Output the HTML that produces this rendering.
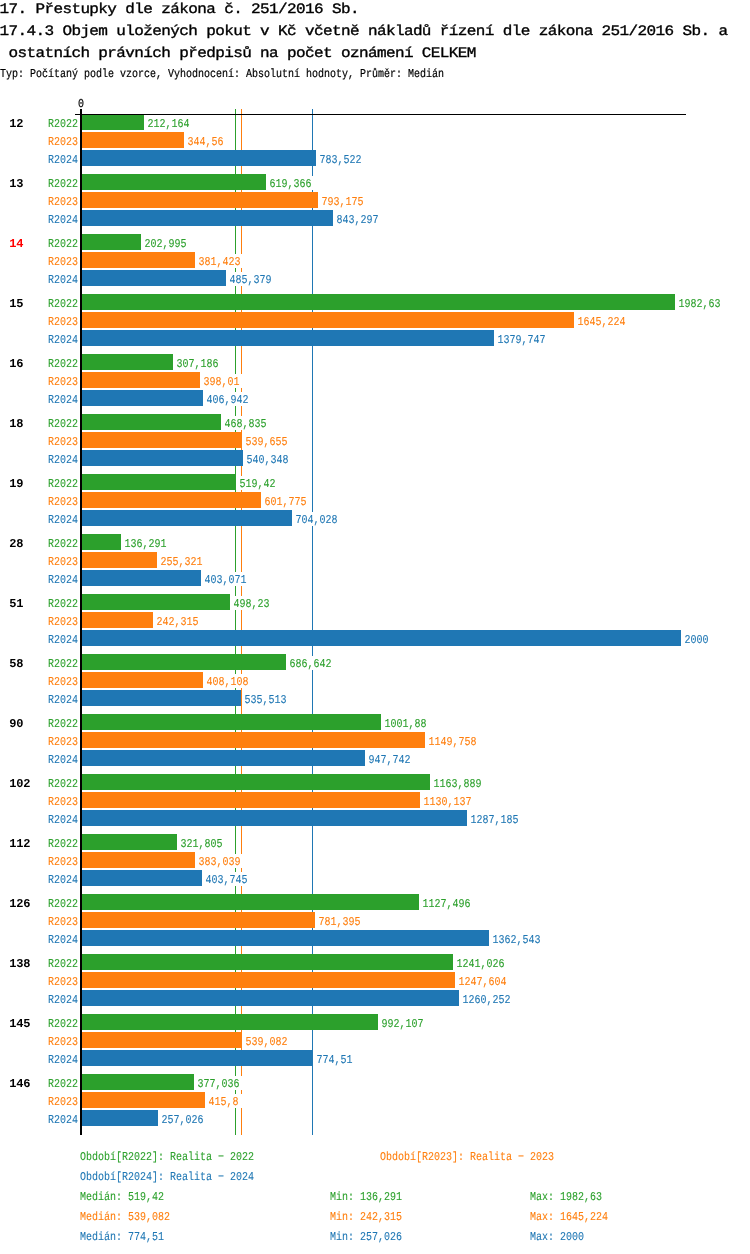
<!DOCTYPE html>
<html lang="cs">
<head>
<meta charset="utf-8">
<title>17.4.3</title>
<style>
html,body{margin:0;padding:0;background:#fff;}
body{width:750px;height:1254px;position:relative;overflow:hidden;font-family:"Liberation Mono",monospace;color:#000;text-rendering:geometricPrecision;}
#chart{position:absolute;left:0;top:0;width:750px;height:1254px;background:#fff;will-change:transform;}
.abs,.t,.s,.c,.y,.v,.bar,.ln,.lg{position:absolute;white-space:pre;}
.t{left:-0.5px;font-size:16px;line-height:24px;height:24px;letter-spacing:-0.615px;-webkit-text-stroke:0.38px #000;transform:scaleY(0.9);transform-origin:0 0;}
.s,.y,.v,.lg{font-size:12px;line-height:14px;height:14px;transform:scaleX(0.8333);transform-origin:0 0;-webkit-text-stroke:0.1px currentColor;}
.c{font-size:12px;font-weight:bold;line-height:14px;height:14px;left:9.3px;letter-spacing:-0.2px;}
.y{left:47.9px;}
.s{-webkit-text-stroke:0.2px #000;}
.v{background:#fff;padding:0 4.8px 0 1.8px;line-height:16px;}
.bar{left:80px;height:16px;}
.g{color:#2ca02c;} .o{color:#ff7f0e;} .b{color:#1f77b4;}
.bar.g{background:#2ca02c;} .bar.o{background:#ff7f0e;} .bar.b{background:#1f77b4;}
.ln{top:109px;width:1px;height:1026px;}
.r{color:#f00;}
</style>
</head>
<body>
<div id="chart">

<div class="t" style="top:-1px">17. Přestupky dle zákona č. 251/2016 Sb.</div>
<div class="t" style="top:21px">17.4.3 Objem uložených pokut v Kč včetně nákladů řízení dle zákona 251/2016 Sb. a</div>
<div class="t" style="top:43px"> ostatních právních předpisů na počet oznámení CELKEM</div>
<div class="s" style="left:0;top:67px">Typ: Počítaný podle vzorce, Vyhodnocení: Absolutní hodnoty, Průměr: Medián</div>
<div class="ln" style="left:235px;background:#2ca02c"></div>
<div class="ln" style="left:241px;background:#ff7f0e"></div>
<div class="ln" style="left:312px;background:#1f77b4"></div>
<div class="s z" style="left:77.5px;top:97px">0</div>
<div class="c" style="top:117px">12</div>
<div class="y g" style="top:117px">R2022</div>
<div class="bar g" style="top:114px;width:64px"></div>
<div class="v g" style="top:116px;left:146px">212,164</div>
<div class="y o" style="top:135px">R2023</div>
<div class="bar o" style="top:132px;width:104px"></div>
<div class="v o" style="top:134px;left:186px">344,56</div>
<div class="y b" style="top:153px">R2024</div>
<div class="bar b" style="top:150px;width:236px"></div>
<div class="v b" style="top:152px;left:318px">783,522</div>
<div class="c" style="top:177px">13</div>
<div class="y g" style="top:177px">R2022</div>
<div class="bar g" style="top:174px;width:186px"></div>
<div class="v g" style="top:176px;left:268px">619,366</div>
<div class="y o" style="top:195px">R2023</div>
<div class="bar o" style="top:192px;width:238px"></div>
<div class="v o" style="top:194px;left:320px">793,175</div>
<div class="y b" style="top:213px">R2024</div>
<div class="bar b" style="top:210px;width:253px"></div>
<div class="v b" style="top:212px;left:335px">843,297</div>
<div class="c r" style="top:237px">14</div>
<div class="y g" style="top:237px">R2022</div>
<div class="bar g" style="top:234px;width:61px"></div>
<div class="v g" style="top:236px;left:143px">202,995</div>
<div class="y o" style="top:255px">R2023</div>
<div class="bar o" style="top:252px;width:115px"></div>
<div class="v o" style="top:254px;left:197px">381,423</div>
<div class="y b" style="top:273px">R2024</div>
<div class="bar b" style="top:270px;width:146px"></div>
<div class="v b" style="top:272px;left:228px">485,379</div>
<div class="c" style="top:297px">15</div>
<div class="y g" style="top:297px">R2022</div>
<div class="bar g" style="top:294px;width:595px"></div>
<div class="v g" style="top:296px;left:677px">1982,63</div>
<div class="y o" style="top:315px">R2023</div>
<div class="bar o" style="top:312px;width:494px"></div>
<div class="v o" style="top:314px;left:576px">1645,224</div>
<div class="y b" style="top:333px">R2024</div>
<div class="bar b" style="top:330px;width:414px"></div>
<div class="v b" style="top:332px;left:496px">1379,747</div>
<div class="c" style="top:357px">16</div>
<div class="y g" style="top:357px">R2022</div>
<div class="bar g" style="top:354px;width:93px"></div>
<div class="v g" style="top:356px;left:175px">307,186</div>
<div class="y o" style="top:375px">R2023</div>
<div class="bar o" style="top:372px;width:120px"></div>
<div class="v o" style="top:374px;left:202px">398,01</div>
<div class="y b" style="top:393px">R2024</div>
<div class="bar b" style="top:390px;width:123px"></div>
<div class="v b" style="top:392px;left:205px">406,942</div>
<div class="c" style="top:417px">18</div>
<div class="y g" style="top:417px">R2022</div>
<div class="bar g" style="top:414px;width:141px"></div>
<div class="v g" style="top:416px;left:223px">468,835</div>
<div class="y o" style="top:435px">R2023</div>
<div class="bar o" style="top:432px;width:162px"></div>
<div class="v o" style="top:434px;left:244px">539,655</div>
<div class="y b" style="top:453px">R2024</div>
<div class="bar b" style="top:450px;width:163px"></div>
<div class="v b" style="top:452px;left:245px">540,348</div>
<div class="c" style="top:477px">19</div>
<div class="y g" style="top:477px">R2022</div>
<div class="bar g" style="top:474px;width:156px"></div>
<div class="v g" style="top:476px;left:238px">519,42</div>
<div class="y o" style="top:495px">R2023</div>
<div class="bar o" style="top:492px;width:181px"></div>
<div class="v o" style="top:494px;left:263px">601,775</div>
<div class="y b" style="top:513px">R2024</div>
<div class="bar b" style="top:510px;width:212px"></div>
<div class="v b" style="top:512px;left:294px">704,028</div>
<div class="c" style="top:537px">28</div>
<div class="y g" style="top:537px">R2022</div>
<div class="bar g" style="top:534px;width:41px"></div>
<div class="v g" style="top:536px;left:123px">136,291</div>
<div class="y o" style="top:555px">R2023</div>
<div class="bar o" style="top:552px;width:77px"></div>
<div class="v o" style="top:554px;left:159px">255,321</div>
<div class="y b" style="top:573px">R2024</div>
<div class="bar b" style="top:570px;width:121px"></div>
<div class="v b" style="top:572px;left:203px">403,071</div>
<div class="c" style="top:597px">51</div>
<div class="y g" style="top:597px">R2022</div>
<div class="bar g" style="top:594px;width:150px"></div>
<div class="v g" style="top:596px;left:232px">498,23</div>
<div class="y o" style="top:615px">R2023</div>
<div class="bar o" style="top:612px;width:73px"></div>
<div class="v o" style="top:614px;left:155px">242,315</div>
<div class="y b" style="top:633px">R2024</div>
<div class="bar b" style="top:630px;width:601px"></div>
<div class="v b" style="top:632px;left:683px">2000</div>
<div class="c" style="top:657px">58</div>
<div class="y g" style="top:657px">R2022</div>
<div class="bar g" style="top:654px;width:206px"></div>
<div class="v g" style="top:656px;left:288px">686,642</div>
<div class="y o" style="top:675px">R2023</div>
<div class="bar o" style="top:672px;width:123px"></div>
<div class="v o" style="top:674px;left:205px">408,108</div>
<div class="y b" style="top:693px">R2024</div>
<div class="bar b" style="top:690px;width:161px"></div>
<div class="v b" style="top:692px;left:243px">535,513</div>
<div class="c" style="top:717px">90</div>
<div class="y g" style="top:717px">R2022</div>
<div class="bar g" style="top:714px;width:301px"></div>
<div class="v g" style="top:716px;left:383px">1001,88</div>
<div class="y o" style="top:735px">R2023</div>
<div class="bar o" style="top:732px;width:345px"></div>
<div class="v o" style="top:734px;left:427px">1149,758</div>
<div class="y b" style="top:753px">R2024</div>
<div class="bar b" style="top:750px;width:285px"></div>
<div class="v b" style="top:752px;left:367px">947,742</div>
<div class="c" style="top:777px">102</div>
<div class="y g" style="top:777px">R2022</div>
<div class="bar g" style="top:774px;width:350px"></div>
<div class="v g" style="top:776px;left:432px">1163,889</div>
<div class="y o" style="top:795px">R2023</div>
<div class="bar o" style="top:792px;width:340px"></div>
<div class="v o" style="top:794px;left:422px">1130,137</div>
<div class="y b" style="top:813px">R2024</div>
<div class="bar b" style="top:810px;width:387px"></div>
<div class="v b" style="top:812px;left:469px">1287,185</div>
<div class="c" style="top:837px">112</div>
<div class="y g" style="top:837px">R2022</div>
<div class="bar g" style="top:834px;width:97px"></div>
<div class="v g" style="top:836px;left:179px">321,805</div>
<div class="y o" style="top:855px">R2023</div>
<div class="bar o" style="top:852px;width:115px"></div>
<div class="v o" style="top:854px;left:197px">383,039</div>
<div class="y b" style="top:873px">R2024</div>
<div class="bar b" style="top:870px;width:122px"></div>
<div class="v b" style="top:872px;left:204px">403,745</div>
<div class="c" style="top:897px">126</div>
<div class="y g" style="top:897px">R2022</div>
<div class="bar g" style="top:894px;width:339px"></div>
<div class="v g" style="top:896px;left:421px">1127,496</div>
<div class="y o" style="top:915px">R2023</div>
<div class="bar o" style="top:912px;width:235px"></div>
<div class="v o" style="top:914px;left:317px">781,395</div>
<div class="y b" style="top:933px">R2024</div>
<div class="bar b" style="top:930px;width:409px"></div>
<div class="v b" style="top:932px;left:491px">1362,543</div>
<div class="c" style="top:957px">138</div>
<div class="y g" style="top:957px">R2022</div>
<div class="bar g" style="top:954px;width:373px"></div>
<div class="v g" style="top:956px;left:455px">1241,026</div>
<div class="y o" style="top:975px">R2023</div>
<div class="bar o" style="top:972px;width:375px"></div>
<div class="v o" style="top:974px;left:457px">1247,604</div>
<div class="y b" style="top:993px">R2024</div>
<div class="bar b" style="top:990px;width:379px"></div>
<div class="v b" style="top:992px;left:461px">1260,252</div>
<div class="c" style="top:1017px">145</div>
<div class="y g" style="top:1017px">R2022</div>
<div class="bar g" style="top:1014px;width:298px"></div>
<div class="v g" style="top:1016px;left:380px">992,107</div>
<div class="y o" style="top:1035px">R2023</div>
<div class="bar o" style="top:1032px;width:162px"></div>
<div class="v o" style="top:1034px;left:244px">539,082</div>
<div class="y b" style="top:1053px">R2024</div>
<div class="bar b" style="top:1050px;width:233px"></div>
<div class="v b" style="top:1052px;left:315px">774,51</div>
<div class="c" style="top:1077px">146</div>
<div class="y g" style="top:1077px">R2022</div>
<div class="bar g" style="top:1074px;width:114px"></div>
<div class="v g" style="top:1076px;left:196px">377,036</div>
<div class="y o" style="top:1095px">R2023</div>
<div class="bar o" style="top:1092px;width:125px"></div>
<div class="v o" style="top:1094px;left:207px">415,8</div>
<div class="y b" style="top:1113px">R2024</div>
<div class="bar b" style="top:1110px;width:78px"></div>
<div class="v b" style="top:1112px;left:160px">257,026</div>
<div class="abs" style="left:75px;top:114px;width:611px;height:1px;background:#000"></div>
<div class="abs" style="left:80px;top:109px;width:2px;height:1026px;background:#000"></div>
<div class="lg g" style="left:80px;top:1150px">Období[R2022]: Realita − 2022</div>
<div class="lg o" style="left:380px;top:1150px">Období[R2023]: Realita − 2023</div>
<div class="lg b" style="left:80px;top:1170px">Období[R2024]: Realita − 2024</div>
<div class="lg g" style="left:80px;top:1190px">Medián: 519,42</div>
<div class="lg g" style="left:330px;top:1190px">Min: 136,291</div>
<div class="lg g" style="left:530px;top:1190px">Max: 1982,63</div>
<div class="lg o" style="left:80px;top:1210px">Medián: 539,082</div>
<div class="lg o" style="left:330px;top:1210px">Min: 242,315</div>
<div class="lg o" style="left:530px;top:1210px">Max: 1645,224</div>
<div class="lg b" style="left:80px;top:1230px">Medián: 774,51</div>
<div class="lg b" style="left:330px;top:1230px">Min: 257,026</div>
<div class="lg b" style="left:530px;top:1230px">Max: 2000</div>
</div>
</body>
</html>
